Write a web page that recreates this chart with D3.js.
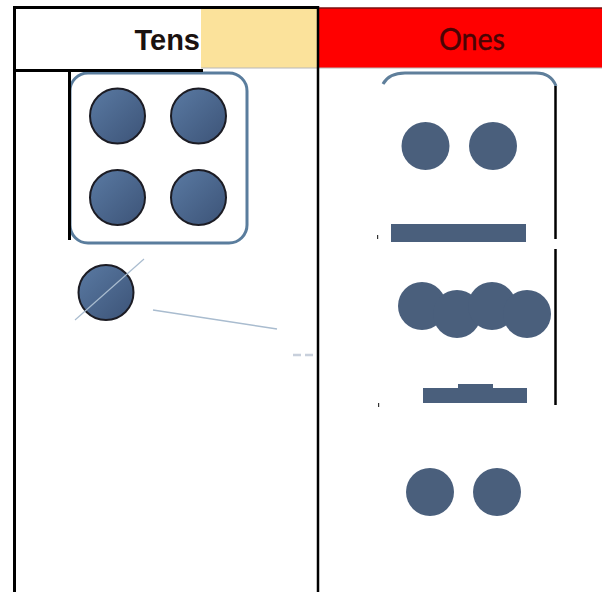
<!DOCTYPE html>
<html><head><meta charset="utf-8">
<script src="https://cdn.jsdelivr.net/npm/d3@7"></script>
<style>html,body{margin:0;padding:0;background:#fff;overflow:hidden}</style>
</head><body>
<svg id="c" width="604" height="592"></svg>
<script>
// ---- data ----
const categories = ["Tens", "Ones"];
const tensFrameDots = [0, 1, 2, 3];      // four dots inside the tens frame
const tensLooseDots = [0];               // one loose dot below the frame
const onesRows = ["top", "middle", "bottom"];
const onesRowCounts = [2, 4, 2];         // dots per row in the Ones column

// ---- layout ----
const svg = d3.select("#c");
const W = 604, H = 592;
const colX = d3.scaleOrdinal().domain(categories).range([15, 318]);
const headerTop = 8, headerBot = 68;

const defs = svg.append("defs");
const g = defs.append("linearGradient").attr("id","dotGrad")
  .attr("x1","0%").attr("y1","0%").attr("x2","100%").attr("y2","100%");
g.append("stop").attr("offset","0%").attr("stop-color","#5a7aa3");
g.append("stop").attr("offset","100%").attr("stop-color","#3c5377");

// headers
svg.append("rect").attr("x",colX("Tens")).attr("y",headerTop).attr("width",186).attr("height",headerBot-headerTop).attr("fill","#fff");
svg.append("rect").attr("x",201).attr("y",headerTop).attr("width",117).attr("height",headerBot-headerTop).attr("fill","#fbe29b");
svg.append("rect").attr("x",colX("Ones")).attr("y",headerTop).attr("width",W-2-colX("Ones")).attr("height",headerBot-headerTop).attr("fill","#ff0000");
svg.append("line").attr("x1",319).attr("x2",602).attr("y1",headerTop).attr("y2",headerTop).attr("stroke","#7a1010").attr("stroke-width",1.5);
svg.append("line").attr("x1",201).attr("x2",602).attr("y1",headerBot).attr("y2",headerBot).attr("stroke","#b8b8b8").attr("stroke-width",1);

svg.append("text").attr("x",200).attr("y",49.5).attr("text-anchor","end")
  .attr("font-family","'Liberation Sans', Arial, sans-serif").attr("font-weight","bold")
  .attr("font-size",29).attr("fill","#1a1210").text(categories[0]);
svg.append("text").attr("x",472).attr("y",50).attr("text-anchor","middle")
  .attr("font-family","Lato, 'Open Sans', sans-serif")
  .attr("font-size",31).attr("fill","#4a0404").attr("stroke","#4a0404").attr("stroke-width",0.4)
  .attr("textLength",66).attr("lengthAdjust","spacingAndGlyphs").text(categories[1]);

// tens frame (rounded rect)
svg.append("rect").attr("x",70).attr("y",73).attr("width",177).attr("height",170).attr("rx",18)
  .attr("fill","none").attr("stroke","#5a7d9d").attr("stroke-width",3);

// black grid lines
const black = (x1,y1,x2,y2,w) => svg.append("line").attr("x1",x1).attr("y1",y1).attr("x2",x2).attr("y2",y2).attr("stroke","#000").attr("stroke-width",w);
black(13,7.5,319,7.5,3);
black(14.5,6,14.5,H,3);
black(318,6,318,H,2.5);
black(13,70.5,203,70.5,3);
black(69.5,70,69.5,240,3);

// tens dots
const tx = d3.scalePoint().domain([0,1]).range([117.5,198.5]);
const ty = d3.scalePoint().domain([0,1]).range([116,197.5]);
svg.selectAll(".td").data(tensFrameDots).join("circle").attr("class","td")
  .attr("cx",d=>tx(d%2)).attr("cy",d=>ty(Math.floor(d/2))).attr("r",27.5)
  .attr("fill","url(#dotGrad)").attr("stroke","#1c1c24").attr("stroke-width",2);
svg.selectAll(".tl").data(tensLooseDots).join("circle").attr("class","tl")
  .attr("cx",106).attr("cy",292.5).attr("r",27.5)
  .attr("fill","url(#dotGrad)").attr("stroke","#1c1c24").attr("stroke-width",2);
svg.append("line").attr("x1",75).attr("y1",320).attr("x2",144).attr("y2",259).attr("stroke","#a9bccf").attr("stroke-width",1.2);
svg.append("line").attr("x1",153).attr("y1",310).attr("x2",277).attr("y2",329).attr("stroke","#a9bccf").attr("stroke-width",1.5);
svg.append("line").attr("x1",293).attr("y1",355).attr("x2",317).attr("y2",355).attr("stroke","#c8d0dc").attr("stroke-width",2.5).attr("stroke-dasharray","8,4");

// ones frame partial
svg.append("path").attr("d","M383,84 Q389,73 405,73 L536,73 Q551,73 556,86")
  .attr("fill","none").attr("stroke","#5f7f9b").attr("stroke-width",3);
black(555.5,86,555.5,239,2.5);
black(555.5,249,555.5,405,2.5);

// ones dots
const onesColor = "#4a5f7c";
const rowY = d3.scaleOrdinal().domain(onesRows).range([146,310,492]);
const rowX = {
  top: d3.scalePoint().domain(d3.range(onesRowCounts[0])).range([425.5,493]),
  middle: d3.scalePoint().domain(d3.range(onesRowCounts[1])).range([422,527]),
  bottom: d3.scalePoint().domain(d3.range(onesRowCounts[2])).range([430,497])
};
const onesDots = onesRows.flatMap((r,ri)=>d3.range(onesRowCounts[ri]).map(i=>({row:r,i})));
svg.selectAll(".od").data(onesDots).join("circle").attr("class","od")
  .attr("cx",d=>rowX[d.row](d.i))
  .attr("cy",d=>rowY(d.row) + (d.row==="middle" ? (d.i%2 ? 4 : -4) : 0))
  .attr("r",24).attr("fill",onesColor);

// ones bars
svg.append("rect").attr("x",391).attr("y",224).attr("width",135).attr("height",18).attr("fill",onesColor);
svg.append("rect").attr("x",423).attr("y",388).attr("width",104).attr("height",15).attr("fill",onesColor);
svg.append("rect").attr("x",458).attr("y",384).attr("width",35).attr("height",5).attr("fill",onesColor);
svg.append("rect").attr("x",377).attr("y",235).attr("width",1.2).attr("height",4).attr("fill","#333");
svg.append("rect").attr("x",378).attr("y",403).attr("width",1.2).attr("height",4).attr("fill","#333");
</script>
</body></html>
